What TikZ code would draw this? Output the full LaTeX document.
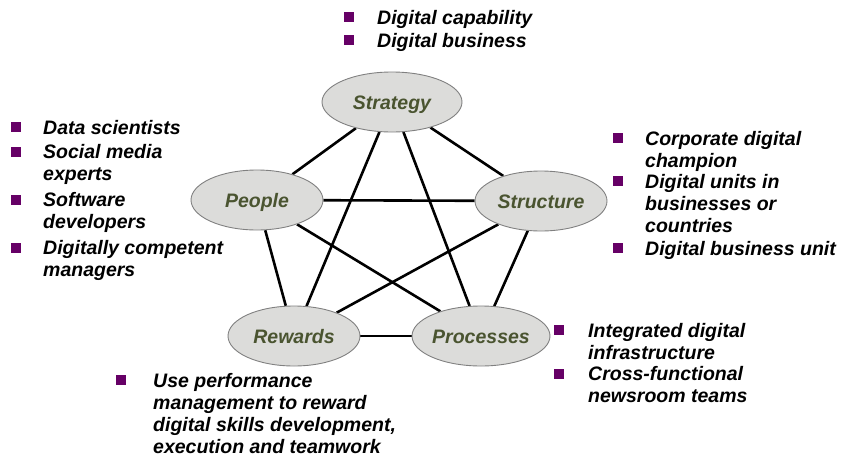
\documentclass[tikz,border=0pt]{standalone}
\usepackage{fontspec}
\setmainfont{Liberation Sans}
\usetikzlibrary{shapes.geometric,backgrounds}
\definecolor{bulcol}{RGB}{102,0,102}
\definecolor{ovfill}{RGB}{220,220,218}
\definecolor{ovdraw}{RGB}{128,128,128}
\definecolor{ovtext}{RGB}{74,84,48}
\newcommand{\mylines}[1]{\begin{tabular}[t]{@{}l@{}}#1\end{tabular}}
\tikzset{
  oval/.style={ellipse, draw=ovdraw, line width=0.9pt, fill=ovfill, minimum width=132pt, minimum height=60pt, inner sep=0pt, text height=14pt, text depth=0pt, text=ovtext, font=\fontsize{19.5}{22}\selectfont\bfseries\itshape},
  link/.style={line width=2.6pt, black},
  bul/.style={rectangle, fill=bulcol, minimum size=10pt, inner sep=0pt},
  txt/.style={anchor=base west, inner sep=0pt, font=\fontsize{19.5}{22}\selectfont\bfseries\itshape, text=black}
}
\begin{document}
\begin{tikzpicture}[x=1pt,y=-1pt]
\useasboundingbox (0,0) rectangle (842,458);
% ovals
\node[oval, minimum width=140pt] (strat) at (392,102) {Strategy};
\node[oval] (people) at (257,200) {People};
\node[oval] (struct) at (541,201) {Structure};
\node[oval] (reward) at (294,336) {Rewards};
\node[oval] (proc) at (481,336) {Processes};
% links
\begin{scope}[on background layer]
\draw[link] (strat) -- (people);
\draw[link] (strat) -- (struct);
\draw[link] (strat) -- (reward);
\draw[link] (strat) -- (proc);
\draw[link] (people) -- (struct);
\draw[link] (people) -- (reward);
\draw[link] (people) -- (proc);
\draw[link] (struct) -- (reward);
\draw[link] (struct) -- (proc);
\draw[link] (reward) -- (proc);
\end{scope}
% top list
\node[bul] (tb1) at (348.5,17) {};
\node[txt] (tt1) at (377,24) {Digital capability};
\node[bul] (tb2) at (348.5,40) {};
\node[txt] (tt2) at (377,47) {Digital business};
% left list
\node[bul] (lb1) at (16,127) {};
\node[txt] (lt1) at (43,134) {\mylines{Data scientists}};
\node[bul] (lb2) at (16,151.5) {};
\node[txt] (lt2) at (43,158.5) {\mylines{Social media\\experts}};
\node[bul] (lb3) at (16,199.5) {};
\node[txt] (lt3) at (43,206.5) {\mylines{Software\\developers}};
\node[bul] (lb4) at (16,247.5) {};
\node[txt] (lt4) at (43,254.5) {\mylines{Digitally competent\\managers}};
% right list
\node[bul] (rb1) at (617.5,138) {};
\node[txt] (rt1) at (645,145) {\mylines{Corporate digital\\champion}};
\node[bul] (rb2) at (617.5,181) {};
\node[txt] (rt2) at (645,188) {\mylines{Digital units in\\businesses or\\countries}};
\node[bul] (rb3) at (617.5,248) {};
\node[txt] (rt3) at (645,255) {\mylines{Digital business unit}};
% bottom right list
\node[bul] (pb1) at (559,330) {};
\node[txt] (pt1) at (588,337) {\mylines{Integrated digital\\infrastructure}};
\node[bul] (pb2) at (559,373.5) {};
\node[txt] (pt2) at (588,380.5) {\mylines{Cross-functional\\newsroom teams}};
% bottom list
\node[bul] (bb1) at (121,380) {};
\node[txt] (bt1) at (153,387) {\mylines{Use performance\\management to reward\\digital skills development,\\execution and teamwork}};
\end{tikzpicture}
\end{document}
